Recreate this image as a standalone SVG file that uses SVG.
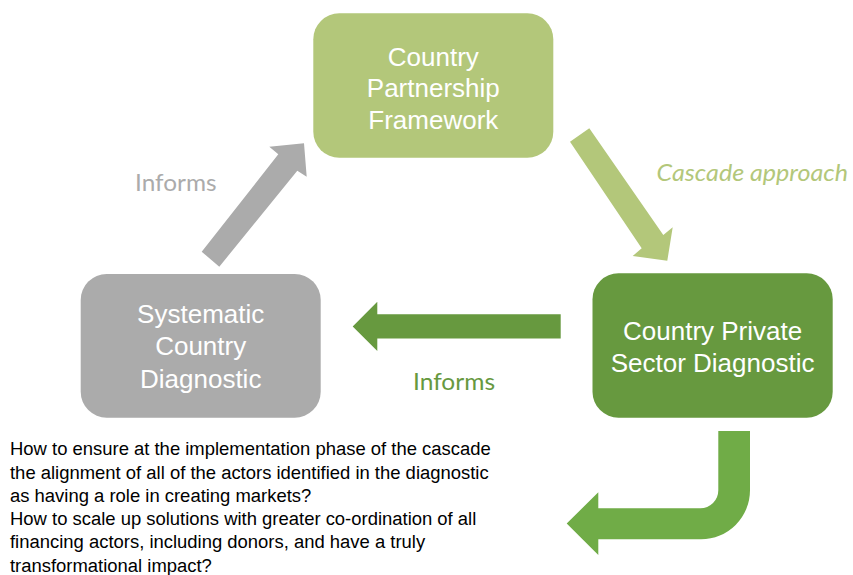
<svg xmlns="http://www.w3.org/2000/svg" width="853" height="575" viewBox="0 0 853 575">
<style>
.node-text{font-family:"Liberation Sans",Arial,sans-serif;font-size:26px;fill:#ffffff;text-anchor:middle}
.lbl{font-family:Lato,"Open Sans",sans-serif;font-size:24px}
.q{font-family:"Liberation Sans",Arial,sans-serif;font-size:18.45px;fill:#000000}
</style>
<rect width="853" height="575" fill="#ffffff"/>
<g id="connectors">
  <polygon id="arrow-scd-cpf" fill="#ABABAB" points="201.7,251.7 278.3,154.3 269.3,146.7 304,143.3 306.7,176.7 297.3,170.7 219.3,266.7"/>
  <polygon id="arrow-cpf-cpsd" fill="#B3C77A" points="589.3,128.3 663.3,235 672.7,227.3 667.3,260.7 632.7,256 641.7,248.3 570,141.7"/>
  <polygon id="arrow-cpsd-scd" fill="#67993F" points="560.7,314.2 377.3,314.2 377.3,301.7 352.7,326.5 377.3,350.9 377.3,338.6 560.7,338.6"/>
  <path id="arrow-uturn" fill="#70AC47" d="M718.3,431 L750,431 L750,490.3 A49,49 0 0 1 701,539.3 L598.3,539.3 L598.3,555 L566.7,523.5 L598.3,492.3 L598.3,508.3 L700.3,508.3 A18,18 0 0 0 718.3,490.3 Z"/>
  <text class="lbl" x="135" y="190.5" fill="#ABABAB" textLength="81.5" lengthAdjust="spacingAndGlyphs">Informs</text>
  <text class="lbl" x="656.5" y="181" fill="#B3C77A" font-style="italic" textLength="191.5" lengthAdjust="spacingAndGlyphs">Cascade approach</text>
  <text class="lbl" x="413" y="390" fill="#67993F" textLength="82" lengthAdjust="spacingAndGlyphs">Informs</text>
</g>
<g id="node-cpf">
  <rect x="313.3" y="13.3" width="240" height="144.5" rx="26" ry="26" fill="#B3C77A"/>
  <text class="node-text" x="433.3" y="65.5">Country</text>
  <text class="node-text" x="433.3" y="97">Partnership</text>
  <text class="node-text" x="433.3" y="128.5">Framework</text>
</g>
<g id="node-cpsd">
  <rect x="592.5" y="273.3" width="240.2" height="144.4" rx="26" ry="26" fill="#67993F"/>
  <text class="node-text" x="712.6" y="340">Country Private</text>
  <text class="node-text" x="712.6" y="371.5">Sector Diagnostic</text>
</g>
<g id="node-scd">
  <rect x="80.7" y="274" width="240" height="143.7" rx="26" ry="26" fill="#ABABAB"/>
  <text class="node-text" x="200.7" y="323.3">Systematic</text>
  <text class="node-text" x="200.7" y="355">Country</text>
  <text class="node-text" x="200.7" y="387.5">Diagnostic</text>
</g>
<g id="questions">
  <text class="q" x="10" y="455">How to ensure at the implementation phase of the cascade</text>
  <text class="q" x="10" y="478.5">the alignment of all of the actors identified in the diagnostic</text>
  <text class="q" x="10" y="501.5">as having a role in creating markets?</text>
  <text class="q" x="10" y="525">How to scale up solutions with greater co-ordination of all</text>
  <text class="q" x="10" y="548">financing actors, including donors, and have a truly</text>
  <text class="q" x="10" y="571.5">transformational impact?</text>
</g>
</svg>
